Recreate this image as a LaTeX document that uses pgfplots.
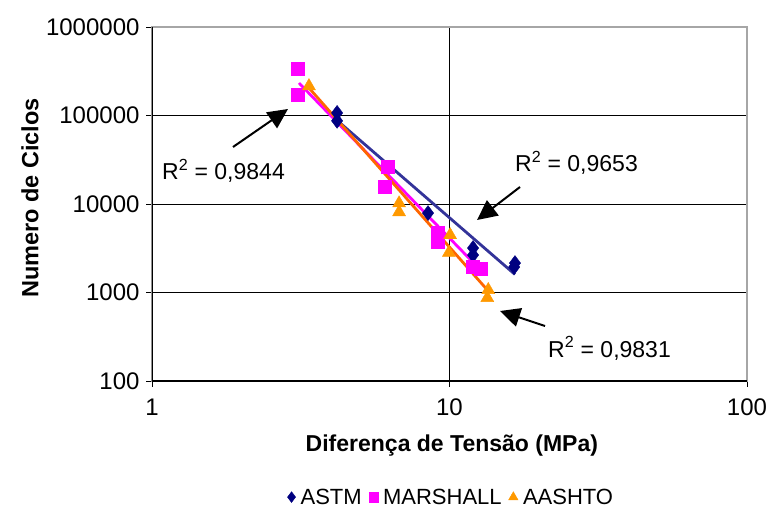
\documentclass[border=0pt]{standalone}
\usepackage{pgfplots}
\pgfplotsset{compat=1.18}
\usepackage{fontspec}
\setmainfont{Liberation Sans}
\usetikzlibrary{arrows.meta}
\definecolor{astm}{RGB}{0,0,128}
\definecolor{astmline}{RGB}{51,51,153}
\definecolor{marsh}{RGB}{255,0,255}
\definecolor{aash}{RGB}{255,153,0}
\definecolor{aashline}{RGB}{255,102,0}
\begin{document}
\begin{tikzpicture}[x=1pt,y=1pt]
\useasboundingbox (-152,-128) rectangle (619,381);
\begin{axis}[
  at={(0,0)}, anchor=south west,
  scale only axis, width=595pt, height=354pt,
  xmode=log, ymode=log,
  xmin=1, xmax=100, ymin=100, ymax=1000000,
  xtick={1,10,100}, xticklabels={1,10,100},
  ytick={100,1000,10000,100000,1000000},
  yticklabels={100,1000,10000,100000,1000000},
  minor tick length=0pt,
  grid=major, major grid style={black, line width=0.7pt},
  axis line style={draw=gray!70, line width=1.2pt},
  tick align=outside, tick pos=left, major tick length=6pt,
  tick style={black, line width=0.8pt},
  /pgf/number format/assume math mode=true,
  ticklabel style={font=\fontsize{24}{28}\selectfont},
  xticklabel style={yshift=-8pt},
  yticklabel style={xshift=-3pt},
  xlabel={Diferença de Tensão (MPa)},
  ylabel={Numero de Ciclos},
  every axis x label/.style={at={(rel axis cs:0.504,-0.181)}, anchor=center,
    font=\bfseries\fontsize{23}{27}\selectfont},
  every axis y label/.style={at={(rel axis cs:-0.205,0.517)}, anchor=center, rotate=90,
    font=\bfseries\fontsize{23.5}{27}\selectfont},
  legend style={at={(0.503,-0.328)}, anchor=center, draw=none, legend columns=3,
    font=\fontsize{22}{26}\selectfont,
    /tikz/every odd column/.append style={column sep=3pt},
    /tikz/every even column/.append style={column sep=5pt}},
  legend image post style={scale=0.72},
  legend cell align=left,
]
\addplot[only marks, mark=diamond*, mark size=7.5pt, color=astm] coordinates {
 (4.19,107000) (4.19,87000) (8.47,7900) (12.0,3180) (12.0,2650) (16.6,2150) (16.5,1940)
};
\addlegendentry{ASTM}
\addplot[only marks, mark=square*, mark size=6.5pt, color=marsh] coordinates {
 (3.1,335000) (3.1,170000) (6.2,26200) (6.07,15600) (9.15,4700) (9.15,3720) (12.7,1845) (12.0,1960)
};
\addlegendentry{MARSHALL}
\addplot[only marks, mark=triangle*, mark size=7.5pt, color=aash] coordinates {
 (3.37,215000) (6.77,10200) (6.77,8100) (10.05,4460) (9.95,2810) (13.5,1070) (13.4,870)
};
\addlegendentry{AASHTO}
\addplot[forget plot, no marks, color=astmline, line width=2.8pt] coordinates {
 (4.19,88000) (16.6,1600)
};
\addplot[forget plot, no marks, color=marsh, line width=2.8pt] coordinates {
 (3.12,233000) (12.7,1800)
};
\addplot[forget plot, no marks, color=aashline, line width=2.8pt] coordinates {
 (3.37,205000) (13.6,1010)
};
\draw[black, line width=1.2pt] (rel axis cs:0,1) -- (rel axis cs:0,0) -- (rel axis cs:1,0);
\end{axis}
\draw[line width=2pt, -{Triangle[length=20pt,width=19pt]}] (81,234) -- (136,272);
\node[anchor=base west, inner sep=0pt, font=\fontsize{23}{27}\selectfont] at (10,201) {R\textsuperscript{2} = 0,9844};
\draw[line width=2pt, -{Triangle[length=20pt,width=19pt]}] (368,194) -- (325,161);
\node[anchor=base west, inner sep=0pt, font=\fontsize{23}{27}\selectfont] at (363,209) {R\textsuperscript{2} = 0,9653};
\draw[line width=2pt, -{Triangle[length=20pt,width=19pt]}] (393,55) -- (348,70);
\node[anchor=base west, inner sep=0pt, font=\fontsize{23}{27}\selectfont] at (396,24) {R\textsuperscript{2} = 0,9831};
\end{tikzpicture}
\end{document}
